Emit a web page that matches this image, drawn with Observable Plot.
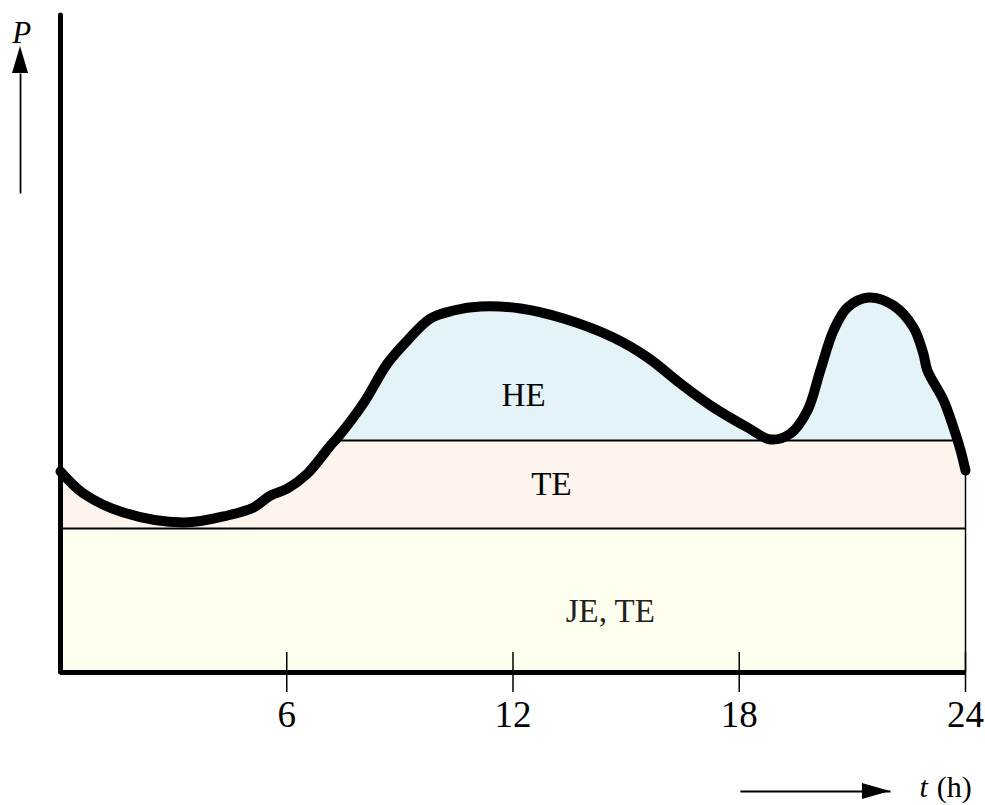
<!DOCTYPE html>
<html>
<head>
<meta charset="utf-8">
<script src="https://cdn.jsdelivr.net/npm/d3@7"></script>
<script src="https://cdn.jsdelivr.net/npm/@observablehq/plot@0.6"></script>
<style>
  body { margin: 0; background: #fff; }
  #chart svg { display: block; }
  #chart [aria-label^="x-axis"] text { font-size: 37px; font-family: "Liberation Serif", "Times New Roman", serif; }
  #chart [aria-label="x-axis tick"] path { stroke-width: 1.5px; }
</style>
</head>
<body>
<div id="chart"></div>
<script>
// ---- data (time in hours, load P in arbitrary units) ----
const hours = [0, 0.61, 1.67, 3.26, 4.43, 5.12, 5.57, 6.02, 6.55, 7.16, 7.35, 8.03, 8.67, 9.20, 9.81, 10.42, 11.14, 12.20, 13.34, 14.66, 15.57, 16.44, 17.32, 18.22, 18.83, 19.36, 19.81, 20.15, 20.50, 20.87, 21.43, 22.09, 22.62, 22.88, 22.99, 23.42, 23.68, 23.87, 24];
const load  = [201, 179, 160, 150, 157, 165, 177, 184, 199, 227, 235, 269, 309, 332, 354, 362, 366, 364, 354, 335, 315, 289, 265, 245, 233, 239, 262, 302, 342, 365, 375, 367, 345, 319, 302, 272, 245, 222, 202];
const tickHours = [6, 12, 18, 24];
const jeLevel = 144;   // JE, TE base band top
const teLevel = 232;   // TE band top
const pMax = 657;      // top of vertical axis
const bandNames = ["HE", "TE", "JE, TE"];
const bandNameT = [12.28, 13.02, 14.58];
const bandNameP = [277, 188, 61];

// annotation anchors (data units)
const pLabel = {t: -1.03, p: 639};
const pArrow = {t: -1.06, p0: 479, p1: 599};
const tArrow = {p: -119, t0: 18.03, t1: 22.01};
const tLabel = {t: 22.78, tUnit: 23.24, p: -115};

const rows = hours.map((t, i) => ({t, p: load[i]}));
const bandRect = (lo, hi) => [{a: 0, b: 24, lo, hi}];
const labels = bandNames.map((s, i) => ({s, t: bandNameT[i], p: bandNameP[i]}));

const curve = "catmull-rom";
const serif = "'Liberation Serif', 'Times New Roman', serif";

const plot = Plot.plot({
  width: 985,
  height: 805,
  marginLeft: 60,
  marginRight: 20,
  marginTop: 15,
  marginBottom: 133,
  style: {background: "#fff", fontFamily: serif, overflow: "visible"},
  x: {domain: [0, 24], ticks: tickHours, tickSize: 20, tickPadding: 8, tickFormat: d => String(d), label: null},
  y: {domain: [0, pMax], axis: null},
  marks: [
    Plot.rect(bandRect(0, jeLevel), {x1: "a", x2: "b", y1: "lo", y2: "hi", fill: "#fffff0"}),
    Plot.areaY(rows, {x: "t", y1: jeLevel, y2: "p", fill: "#e3f3f8", curve}),
    Plot.rect(bandRect(jeLevel, teLevel), {x1: "a", x2: "b", y1: "lo", y2: "hi", fill: "#fdf4ee"}),
    Plot.ruleY([teLevel], {x1: 0, x2: 24, stroke: "#000", strokeWidth: 2}),
    Plot.areaY(rows, {x: "t", y1: "p", y2: 420, fill: "#fff", curve}),
    Plot.ruleY([jeLevel], {x1: 0, x2: 24, stroke: "#000", strokeWidth: 2.2}),
    Plot.ruleX([24], {y1: 0, y2: load[load.length - 1], stroke: "#000", strokeWidth: 1.5}),
    Plot.ruleX(tickHours, {y1: 0, y2: 20, stroke: "#000", strokeWidth: 1.5}),
    Plot.text(labels, {x: "t", y: "p", text: "s", fontSize: 33, fontFamily: serif, fill: (d) => d.s === "JE, TE" ? "#222" : "#000", textAnchor: "middle", lineAnchor: "middle"}),
    Plot.line(rows, {x: "t", y: "p", stroke: "#000", strokeWidth: 10, curve, strokeLinecap: "round", strokeLinejoin: "round"}),
    Plot.ruleY([0], {x1: 0, x2: 24, stroke: "#000", strokeWidth: 5}),
    Plot.ruleX([0], {y1: 0, y2: pMax, stroke: "#000", strokeWidth: 5, strokeLinecap: "round"}),
    Plot.text([pLabel], {x: "t", y: "p", text: () => "P", fontSize: 31, fontStyle: "italic", fontFamily: serif, textAnchor: "middle", lineAnchor: "middle"}),
    Plot.text([tLabel], {x: "t", y: "p", text: () => "t", fontSize: 30, fontStyle: "italic", fontFamily: serif, textAnchor: "start", lineAnchor: "middle"}),
    Plot.text([tLabel], {x: "tUnit", y: "p", text: () => "(h)", fontSize: 30, fontFamily: serif, textAnchor: "start", lineAnchor: "middle"}),
    Plot.link([pArrow], {x1: "t", x2: "t", y1: "p0", y2: "p1", stroke: "#000", strokeWidth: 1.8}),
    Plot.link([tArrow], {x1: "t0", x2: "t1", y1: "p", y2: "p", stroke: "#000", strokeWidth: 1.8})
  ]
});

// filled arrowheads placed through the plot's own scales
const sx = plot.scale("x"), sy = plot.scale("y");
const svg = d3.select(plot);
{
  const x = sx.apply(pArrow.t), y = sy.apply(pArrow.p1);
  svg.append("path").attr("d", `M${x},${y - 27}L${x - 8},${y}L${x + 8},${y}Z`).attr("fill", "#000");
}
{
  const x = sx.apply(tArrow.t1), y = sy.apply(tArrow.p);
  svg.append("path").attr("d", `M${x},${y}L${x - 28},${y - 8}L${x - 28},${y + 8}Z`).attr("fill", "#000");
}
document.getElementById("chart").append(plot);
</script>
</body>
</html>
